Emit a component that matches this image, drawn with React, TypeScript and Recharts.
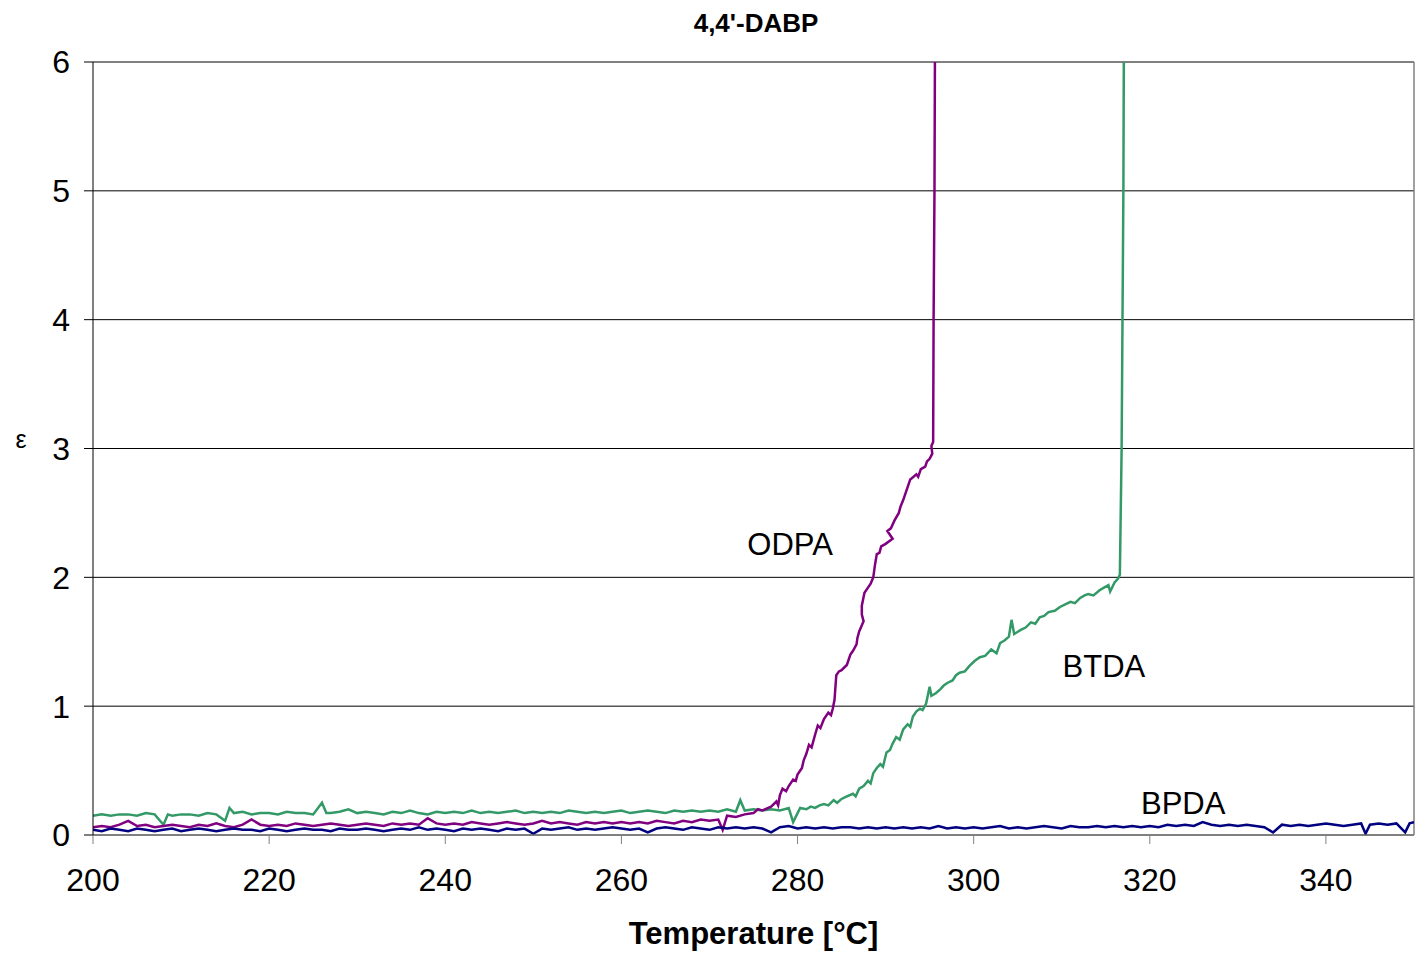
import React from 'react'
import {
  LineChart, Line, XAxis, YAxis, CartesianGrid, ReferenceLine, ReferenceDot, Label,
} from 'recharts'

// temperature [°C], strain
const odpaPoints: [number, number][] = [
  [200, 0.06], [201, 0.07], [202, 0.06], [203, 0.08], [204, 0.11], [205, 0.07], [206, 0.08], [207, 0.06], [208, 0.07], [209, 0.08],
  [210, 0.07], [211, 0.06], [212, 0.08], [213, 0.07], [214, 0.09], [215, 0.07], [216, 0.06], [217, 0.08], [218, 0.12], [219, 0.08],
  [220, 0.07], [221, 0.08], [222, 0.07], [223, 0.09], [224, 0.08], [225, 0.07], [226, 0.08], [227, 0.09], [228, 0.08], [229, 0.07],
  [230, 0.08], [231, 0.09], [232, 0.08], [233, 0.07], [234, 0.09], [235, 0.08], [236, 0.09], [237, 0.08], [238, 0.13], [239, 0.09],
  [240, 0.08], [241, 0.09], [242, 0.08], [243, 0.1], [244, 0.09], [245, 0.08], [246, 0.09], [247, 0.1], [248, 0.09], [249, 0.08],
  [250, 0.09], [251, 0.11], [252, 0.09], [253, 0.1], [254, 0.09], [255, 0.08], [256, 0.1], [257, 0.09], [258, 0.1], [259, 0.09],
  [260, 0.1], [261, 0.09], [262, 0.1], [263, 0.09], [264, 0.11], [265, 0.1], [266, 0.09], [267, 0.11], [268, 0.1], [269, 0.12],
  [270, 0.11], [271, 0.12], [271.5, 0.04], [272, 0.15], [273, 0.14], [274, 0.16], [275, 0.17], [275.5, 0.2], [276, 0.19], [277, 0.22],
  [277.6, 0.26], [277.8, 0.23], [278, 0.31], [278.3, 0.36], [278.7, 0.34], [279, 0.38], [279.5, 0.43], [279.8, 0.42], [280, 0.47],
  [280.5, 0.52], [280.7, 0.58], [281, 0.63], [281.3, 0.7], [281.6, 0.68], [282, 0.78], [282.3, 0.85], [282.6, 0.83], [283, 0.9],
  [283.5, 0.95], [283.8, 0.93], [284, 0.98], [284.2, 1.05], [284.4, 1.24], [284.7, 1.27], [285, 1.28], [285.3, 1.3], [285.6, 1.32],
  [286, 1.4], [286.3, 1.43], [286.7, 1.48], [286.8, 1.53], [287, 1.58], [287.5, 1.66], [287.3, 1.71], [287.3, 1.78], [287.6, 1.88],
  [288, 1.92], [288.3, 1.95], [288.6, 2.0], [288.8, 2.1], [289, 2.18], [289.3, 2.19], [289.5, 2.24], [290, 2.26], [290.8, 2.3],
  [290.2, 2.36], [290.6, 2.38], [291, 2.44], [291.5, 2.5], [291.7, 2.55], [292, 2.6], [292.2, 2.64], [292.5, 2.7], [292.8, 2.76],
  [293.5, 2.8], [293.7, 2.78], [294, 2.84], [294.5, 2.86], [294.7, 2.9], [295, 2.92], [295.3, 2.96], [295.2, 3.02], [295.4, 3.05],
  [295.45, 4.0], [295.55, 5.0], [295.6, 6.0],
]

const btdaPoints: [number, number][] = [
  [200, 0.15], [201, 0.16], [202, 0.15], [203, 0.16], [204, 0.16], [205, 0.15], [206, 0.17], [207, 0.16], [208, 0.08], [208.5, 0.16],
  [209, 0.15], [210, 0.16], [211, 0.16], [212, 0.15], [213, 0.17], [214, 0.16], [215, 0.11], [215.5, 0.21], [216, 0.17], [217, 0.18],
  [218, 0.16], [219, 0.17], [220, 0.17], [221, 0.16], [222, 0.18], [223, 0.17], [224, 0.17], [225, 0.16], [226, 0.25], [226.5, 0.17],
  [227, 0.17], [228, 0.18], [229, 0.2], [230, 0.17], [231, 0.18], [232, 0.17], [233, 0.16], [234, 0.18], [235, 0.17], [236, 0.19],
  [237, 0.17], [238, 0.16], [239, 0.18], [240, 0.17], [241, 0.18], [242, 0.17], [243, 0.19], [244, 0.17], [245, 0.18], [246, 0.17],
  [247, 0.18], [248, 0.19], [249, 0.17], [250, 0.18], [251, 0.17], [252, 0.18], [253, 0.17], [254, 0.19], [255, 0.18], [256, 0.17],
  [257, 0.18], [258, 0.17], [259, 0.18], [260, 0.19], [261, 0.17], [262, 0.18], [263, 0.19], [264, 0.18], [265, 0.17], [266, 0.19],
  [267, 0.18], [268, 0.19], [269, 0.18], [270, 0.19], [271, 0.18], [272, 0.2], [273, 0.18], [273.5, 0.27], [274, 0.19], [275, 0.2],
  [276, 0.19], [277, 0.2], [278, 0.19], [279, 0.21], [279.5, 0.1], [280.3, 0.21], [281, 0.2], [281.5, 0.22], [282, 0.21],
  [282.5, 0.23], [283, 0.24], [283.5, 0.23], [284.1, 0.27], [284.5, 0.25], [285, 0.28], [285.6, 0.3], [286.3, 0.32], [286.6, 0.3],
  [287, 0.36], [287.5, 0.38], [288, 0.42], [288.3, 0.4], [288.6, 0.48], [289, 0.52], [289.4, 0.55], [289.7, 0.53], [290.1, 0.64],
  [290.5, 0.66], [290.8, 0.71], [291.2, 0.76], [291.6, 0.74], [292, 0.82], [292.5, 0.86], [292.8, 0.84], [293.1, 0.92], [293.5, 0.96],
  [293.9, 0.98], [294.2, 0.97], [294.6, 1.02], [295, 1.15], [295.2, 1.08], [295.7, 1.1], [296.2, 1.13], [296.6, 1.16], [297, 1.18],
  [297.6, 1.2], [298, 1.24], [298.4, 1.26], [299, 1.27], [299.5, 1.31], [300.1, 1.35], [300.7, 1.38], [301.3, 1.39], [302, 1.44],
  [302.6, 1.41], [303, 1.49], [303.5, 1.51], [304, 1.54], [304.3, 1.67], [304.6, 1.56], [305.3, 1.59], [305.9, 1.61], [306.5, 1.65],
  [307, 1.64], [307.5, 1.69], [308, 1.7], [308.5, 1.73], [309.2, 1.74], [309.8, 1.77], [310.4, 1.79], [311, 1.81], [311.5, 1.8],
  [312.1, 1.84], [312.6, 1.86], [313, 1.87], [313.6, 1.86], [314.3, 1.9], [314.8, 1.92], [315.3, 1.94], [315.5, 1.89], [316, 1.96],
  [316.4, 1.99], [316.6, 2.02], [316.8, 3.0], [316.9, 4.0], [317.0, 5.0], [317.05, 6.0],
]

const bpdaPoints: [number, number][] = [
  [200, 0.04], [201, 0.03], [202, 0.05], [203, 0.04], [204, 0.03], [205, 0.05], [206, 0.04], [207, 0.03], [208, 0.04], [209, 0.05],
  [210, 0.03], [211, 0.04], [212, 0.05], [213, 0.04], [214, 0.03], [215, 0.04], [216, 0.05], [217, 0.04], [218, 0.04], [219, 0.03],
  [220, 0.05], [221, 0.04], [222, 0.03], [223, 0.04], [224, 0.05], [225, 0.04], [226, 0.04], [227, 0.03], [228, 0.05], [229, 0.04],
  [230, 0.04], [231, 0.05], [232, 0.04], [233, 0.03], [234, 0.04], [235, 0.05], [236, 0.04], [237, 0.06], [238, 0.04], [239, 0.05],
  [240, 0.04], [241, 0.03], [242, 0.05], [243, 0.04], [244, 0.05], [245, 0.04], [246, 0.03], [247, 0.05], [248, 0.04], [249, 0.05],
  [250, 0.01], [251, 0.05], [252, 0.04], [253, 0.05], [254, 0.06], [255, 0.04], [256, 0.05], [257, 0.04], [258, 0.05], [259, 0.06],
  [260, 0.05], [261, 0.04], [262, 0.05], [263, 0.02], [264, 0.05], [265, 0.06], [266, 0.05], [267, 0.04], [268, 0.06], [269, 0.05],
  [270, 0.04], [271, 0.06], [272, 0.05], [273, 0.06], [274, 0.05], [275, 0.06], [276, 0.05], [277, 0.02], [278, 0.06], [279, 0.07],
  [280, 0.05], [281, 0.06], [282, 0.05], [283, 0.06], [284, 0.05], [285, 0.06], [286, 0.06], [287, 0.05], [288, 0.06], [289, 0.05],
  [290, 0.06], [291, 0.05], [292, 0.06], [293, 0.05], [294, 0.06], [295, 0.05], [296, 0.07], [297, 0.05], [298, 0.06], [299, 0.05],
  [300, 0.06], [301, 0.05], [302, 0.06], [303, 0.07], [304, 0.05], [305, 0.06], [306, 0.05], [307, 0.06], [308, 0.07], [309, 0.06],
  [310, 0.05], [311, 0.07], [312, 0.06], [313, 0.06], [314, 0.07], [315, 0.06], [316, 0.07], [317, 0.06], [318, 0.07], [319, 0.06],
  [320, 0.07], [321, 0.06], [322, 0.08], [323, 0.07], [324, 0.08], [325, 0.07], [326, 0.1], [327, 0.08], [328, 0.07], [329, 0.08],
  [330, 0.07], [331, 0.08], [332, 0.07], [333, 0.06], [334, 0.02], [335, 0.08], [336, 0.07], [337, 0.08], [338, 0.07], [339, 0.08],
  [340, 0.09], [341, 0.08], [342, 0.07], [343, 0.08], [344, 0.09], [344.5, 0.01], [345, 0.08], [346, 0.09], [347, 0.08], [348, 0.09],
  [349, 0.02], [349.5, 0.09], [350, 0.1],
]

const xTicks = [200, 220, 240, 260, 280, 300, 320, 340]
const yTicks = [0, 1, 2, 3, 4, 5, 6]

// curve names and where they are written on the plot
const curveLabels: { name: string; t: number; e: number }[] = [
  { name: 'ODPA', t: 274.3, e: 2.17 },
  { name: 'BTDA', t: 310.1, e: 1.23 },
  { name: 'BPDA', t: 319.0, e: 0.163 },
]

const toRows = (pts: [number, number][]) => pts.map(([t, e]) => ({ t, e }))

const FONT = '"Liberation Sans", Arial, sans-serif'

export default function App() {
  return (
    <div style={{ position: 'absolute', left: 0, top: 0, width: 1418, height: 955, background: '#fff', fontFamily: FONT }}>
      <div style={{
        position: 'absolute', left: 0, width: 1512, top: 10, textAlign: 'center',
        fontSize: 26, lineHeight: '26px', fontWeight: 'bold',
      }}>
        4,4'-DABP
      </div>
      <LineChart width={1418} height={955} margin={{ top: 62, right: 4, bottom: 60, left: 30 }}>
        <CartesianGrid horizontal vertical={false} stroke="#000" strokeWidth={1} />
        <XAxis
          type="number"
          dataKey="t"
          domain={[200, 350]}
          ticks={xTicks}
          allowDataOverflow
          height={60}
          stroke="#808080"
          tickSize={9}
          tickMargin={24}
          tick={{ fontSize: 32, fill: '#000', fontFamily: FONT }}
        >
          <Label
            content={({ viewBox }: any) => (
              <text x={viewBox.x + viewBox.width / 2} y={944} textAnchor="middle"
                fontSize={31} fontWeight="bold" fontFamily={FONT} fill="#000">
                Temperature [°C]
              </text>
            )}
          />
        </XAxis>
        <YAxis
          type="number"
          domain={[0, 6]}
          ticks={yTicks}
          allowDataOverflow
          width={63}
          stroke="#000"
          tickSize={9}
          tickMargin={14}
          tick={{ fontSize: 32, fill: '#000', fontFamily: FONT }}
        >
          <Label
            content={() => (
              <text x={21} y={448} textAnchor="middle" fontSize={25} fontFamily={FONT} fill="#000">ε</text>
            )}
          />
        </YAxis>
        <ReferenceLine y={6} stroke="#808080" strokeWidth={1.5} />
        <ReferenceLine x={350} stroke="#808080" strokeWidth={1.5} />
        <Line data={toRows(btdaPoints)} dataKey="e" stroke="#339966" strokeWidth={2.5} dot={false} isAnimationActive={false} type="linear" />
        <Line data={toRows(odpaPoints)} dataKey="e" stroke="#800080" strokeWidth={2.5} dot={false} isAnimationActive={false} type="linear" />
        <Line data={toRows(bpdaPoints)} dataKey="e" stroke="#000080" strokeWidth={2.5} dot={false} isAnimationActive={false} type="linear" />
        {curveLabels.map(c => (
          <ReferenceDot
            key={c.name}
            x={c.t}
            y={c.e}
            r={0}
            shape={(p: any) => (
              <text x={p.cx} y={p.cy} textAnchor="start" fontSize={31} fontFamily={FONT} fill="#000">{c.name}</text>
            )}
          />
        ))}
      </LineChart>
    </div>
  )
}
